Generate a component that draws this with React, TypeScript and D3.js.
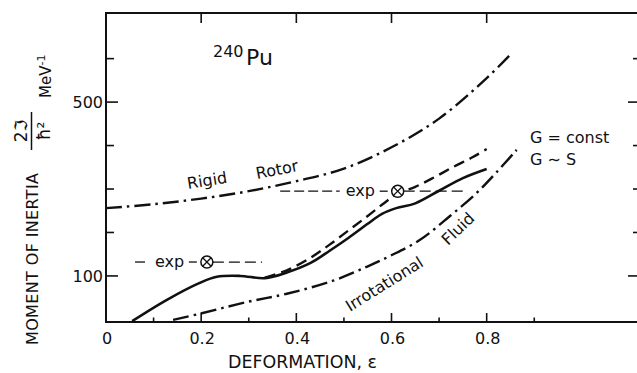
import React from "react";
import * as d3 from "d3";

const W = 637;
const H = 373;

// Axis ticks
const xMinorTicks = [0.1, 0.3, 0.5, 0.7, 0.9];
const xMajorTicks = [0.2, 0.4, 0.6, 0.8];
const xLabelValues = [0, 0.2, 0.4, 0.6, 0.8];
const xLabels = ["0", "0.2", "0.4", "0.6", "0.8"];
const yMinorTicks = [200, 300, 400, 600];
const yMajorTicks = [100, 500];
const yLabels = ["100", "500"];

// Rigid rotor moment of inertia
const rigidX = [0, 0.1, 0.2, 0.3, 0.4, 0.5, 0.6, 0.7, 0.8, 0.853];
const rigidY = [256, 265, 278, 295, 318, 347, 396, 462, 555, 613];

// Irrotational fluid moment of inertia
const fluidX = [0.141, 0.197, 0.296, 0.38, 0.477, 0.548, 0.597, 0.66, 0.723, 0.779, 0.821, 0.863];
const fluidY = [-1, 13, 40, 59, 89, 121, 146, 183, 238, 291, 339, 390];

// Cranking calculation, G ~ S (solid)
const solidX = [0.055, 0.128, 0.197, 0.233, 0.282, 0.334, 0.38, 0.43, 0.47, 0.51, 0.55, 0.58, 0.61, 0.65, 0.7, 0.75, 0.8];
const solidY = [-4, 45, 84, 98, 100, 95, 108, 130, 158, 188, 220, 243, 256, 267, 296, 325, 346];

// Cranking calculation, G = const (dashed)
const dashedX = [0.334, 0.38, 0.43, 0.47, 0.51, 0.55, 0.585, 0.613, 0.65, 0.69, 0.73, 0.77, 0.8];
const dashedY = [96, 113, 142, 172, 205, 238, 268, 290, 305, 327, 351, 373, 392];

// Experimental values: ground-state band and isomer
const expX = [0.212, 0.613];
const expY = [132, 295];
const expLineFrom = [0.061, 0.366];
const expLineTo = [0.328, 0.754];

const x = d3.scaleLinear().domain([0, 1.118]).range([106, 638]);
const y = d3.scaleLinear().domain([-6, 705]).range([322, 13]);

const line = d3
  .line<[number, number]>()
  .x((d) => x(d[0]))
  .y((d) => y(d[1]))
  .curve(d3.curveCatmullRom.alpha(0.5));

const zip = (a: number[], b: number[]): [number, number][] => a.map((v, i) => [v, b[i]]);

const FONT = "DejaVu Sans";
const INK = "#111";

export default function App() {
  const x0 = x(0);
  const xR = x(1.118);
  const yB = y(-6);
  const yT = y(705);
  return (
    <svg
      width={W}
      height={H}
      viewBox={`0 0 ${W} ${H}`}
      style={{ position: "absolute", left: 0, top: 0, background: "#fff" }}
      fontFamily={FONT}
    >
      <rect width={W} height={H} fill="#fff" />
      {/* frame */}
      <path
        d={`M${xR},${yT}H${x0}V${yB}H${xR}V${yT}`}
        fill="none"
        stroke={INK}
        strokeWidth={2}
      />
      {/* bottom ticks */}
      {xMinorTicks.map((t) => (
        <line key={"xm" + t} x1={x(t)} x2={x(t)} y1={yB} y2={yB - 4.5} stroke={INK} strokeWidth={1.6} />
      ))}
      {xMajorTicks.map((t) => (
        <line key={"xM" + t} x1={x(t)} x2={x(t)} y1={yB} y2={yB - 9} stroke={INK} strokeWidth={1.6} />
      ))}
      {/* top ticks */}
      {xMajorTicks.map((t) => (
        <line key={"xt" + t} x1={x(t)} x2={x(t)} y1={yT} y2={yT + 10} stroke={INK} strokeWidth={1.6} />
      ))}
      {/* left and right ticks */}
      {yMinorTicks.map((t) => (
        <g key={"ym" + t}>
          <line x1={x0} x2={x0 + 8} y1={y(t)} y2={y(t)} stroke={INK} strokeWidth={1.6} />
          <line x1={xR} x2={xR - 5} y1={y(t)} y2={y(t)} stroke={INK} strokeWidth={1.6} />
        </g>
      ))}
      {yMajorTicks.map((t) => (
        <g key={"yM" + t}>
          <line x1={x0} x2={x0 + 12} y1={y(t)} y2={y(t)} stroke={INK} strokeWidth={1.6} />
          <line x1={xR} x2={xR - 10} y1={y(t)} y2={y(t)} stroke={INK} strokeWidth={1.6} />
        </g>
      ))}
      {/* tick labels */}
      {xLabelValues.map((t, i) => (
        <text key={"xl" + t} x={x(t) + 1} y={344} fontSize={16} textAnchor="middle" fill={INK}>
          {xLabels[i]}
        </text>
      ))}
      {yMajorTicks.map((t, i) => (
        <text key={"yl" + t} x={103} y={y(t) + 6} fontSize={16} textAnchor="end" fill={INK}>
          {yLabels[i]}
        </text>
      ))}
      {/* axis titles */}
      <text x={228} y={368} fontSize={17} fill={INK} textLength={149} lengthAdjust="spacingAndGlyphs">
        DEFORMATION, ε
      </text>
      <g transform="rotate(-90)" fill={INK}>
        <text x={-345} y={38} fontSize={16} textLength={172}>
          MOMENT OF INERTIA
        </text>
        <text x={-131} y={27} fontSize={17} textAnchor="middle">
          2ℑ
        </text>
        <line x1={-150} x2={-112} y1={31.5} y2={31.5} stroke={INK} strokeWidth={1.5} />
        <text x={-131} y={50} fontSize={17} textAnchor="middle">
          ħ²
        </text>
        <text x={-98} y={51} fontSize={15}>
          MeV
          <tspan dy={-6} fontSize={11}>
            -1
          </tspan>
        </text>
      </g>
      {/* nucleus label */}
      <text x={213} y={57} fontSize={16} fill={INK}>
        240
      </text>
      <text x={246} y={65} fontSize={22} fill={INK}>
        Pu
      </text>
      {/* curves */}
      <path d={line(zip(rigidX, rigidY)) || ""} fill="none" stroke={INK} strokeWidth={2.4} strokeDasharray="16 5 2.5 5" />
      <path d={line(zip(fluidX, fluidY)) || ""} fill="none" stroke={INK} strokeWidth={2.4} strokeDasharray="16 5 2.5 5" />
      <path d={line(zip(solidX, solidY)) || ""} fill="none" stroke={INK} strokeWidth={2.6} />
      <path d={line(zip(dashedX, dashedY)) || ""} fill="none" stroke={INK} strokeWidth={2.4} strokeDasharray="11 6" />
      {/* experimental points */}
      {expX.map((ex, i) => {
        const cx = x(ex);
        const cy = y(expY[i]);
        const r = 6;
        const a = r * 0.7;
        return (
          <g key={"exp" + i}>
            <line
              x1={x(expLineFrom[i])}
              x2={cx - 58}
              y1={cy}
              y2={cy}
              stroke={INK}
              strokeWidth={1.3}
              strokeDasharray="10 4"
            />
            <line x1={cx - 18} x2={cx - r} y1={cy} y2={cy} stroke={INK} strokeWidth={1.3} strokeDasharray="8 4" />
            <line
              x1={cx + r}
              x2={x(expLineTo[i])}
              y1={cy}
              y2={cy}
              stroke={INK}
              strokeWidth={1.3}
              strokeDasharray="11 5"
            />
            <rect x={cx - 53} y={cy - 8} width={32} height={14} fill="#fff" />
            <text x={cx - 52} y={cy + 5} fontSize={16} fill={INK}>
              exp
            </text>
            <circle cx={cx} cy={cy} r={r} fill="#fff" stroke={INK} strokeWidth={1.5} />
            <line x1={cx - a} x2={cx + a} y1={cy - a} y2={cy + a} stroke={INK} strokeWidth={1.3} />
            <line x1={cx - a} x2={cx + a} y1={cy + a} y2={cy - a} stroke={INK} strokeWidth={1.3} />
          </g>
        );
      })}
      {/* curve labels */}
      <text transform="translate(188,189) rotate(-9)" fontSize={16} fill={INK}>
        Rigid
      </text>
      <text transform="translate(257,179) rotate(-11)" fontSize={16} fill={INK}>
        Rotor
      </text>
      <text transform="translate(350,312) rotate(-32)" fontSize={16} fill={INK}>
        Irrotational
      </text>
      <text transform="translate(448,246) rotate(-44)" fontSize={16} fill={INK}>
        Fluid
      </text>
      <text x={530} y={143} fontSize={16} fill={INK}>
        G = const
      </text>
      <text x={530} y={165} fontSize={16} fill={INK}>
        G ∼ S
      </text>
    </svg>
  );
}
